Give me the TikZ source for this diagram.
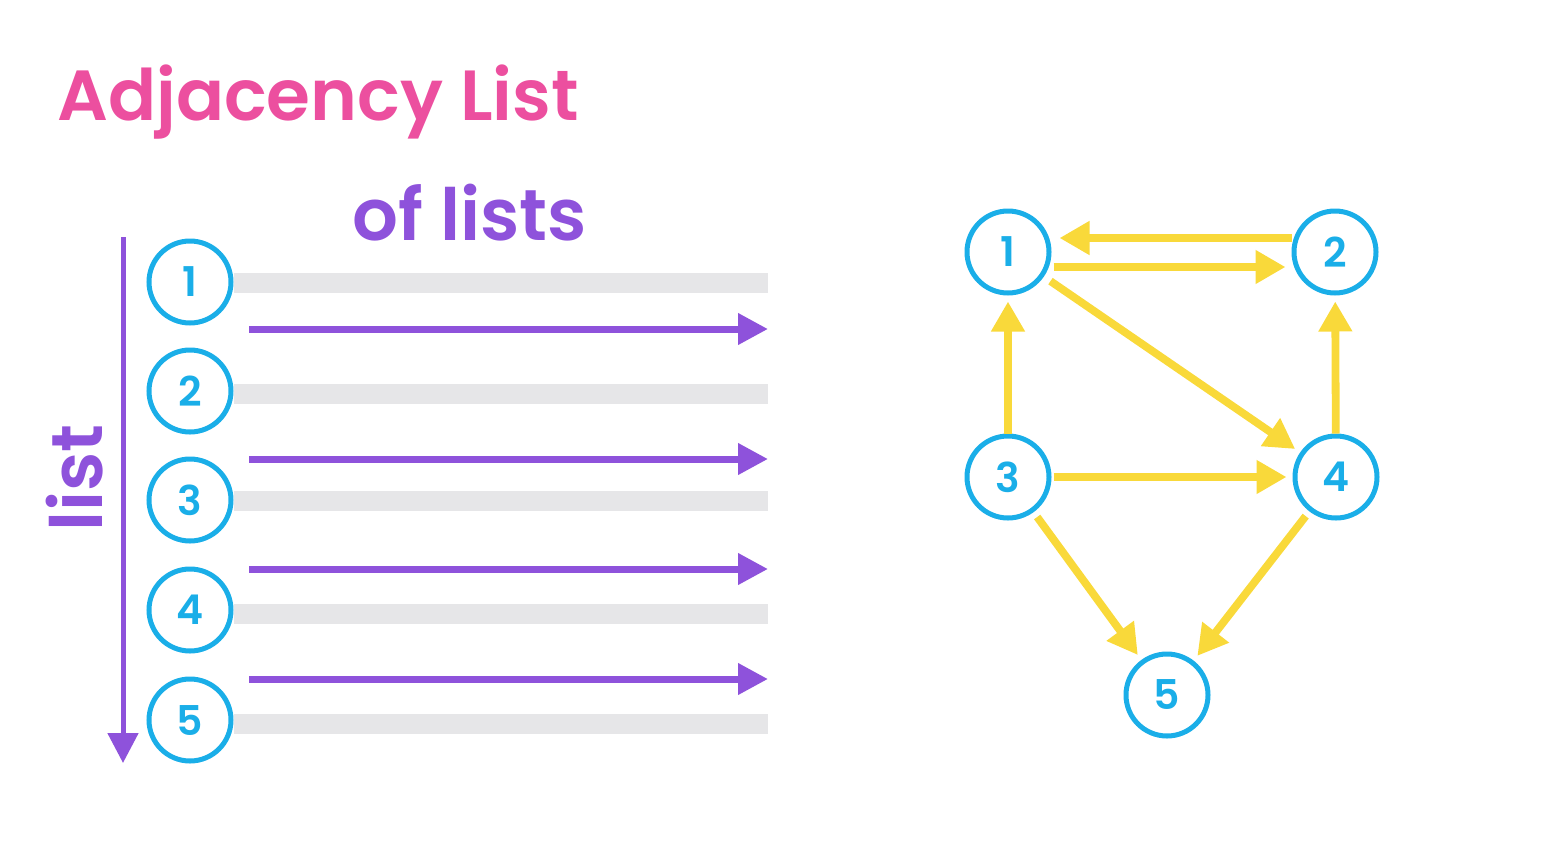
\documentclass[tikz,border=0pt]{standalone}
\usepackage{fontspec}
\setmainfont{Poppins Medium}
\newfontfamily\semib{Poppins SemiBold}
\usetikzlibrary{arrows.meta}
\definecolor{cyanc}{HTML}{1AAEE8}
\definecolor{pinkc}{HTML}{EC4F9F}
\definecolor{purplec}{HTML}{8E52DB}
\definecolor{greyc}{HTML}{E6E6E8}
\definecolor{yellowc}{HTML}{F9D93A}
\tikzset{
  vert/.style={circle, draw=cyanc, line width=2.5pt, minimum size=41pt, inner sep=0pt, text=cyanc, font=\semib\fontsize{20.5}{21}\selectfont},
  bar/.style={greyc, line width=10pt},
  listarrow/.style={purplec, line width=3.5pt, -{Triangle[length=15pt,width=15pt]}},
  edge/.style={yellowc, line width=3.9pt, -{Triangle[length=15pt,width=16pt]}},
}
\begin{document}
\begin{tikzpicture}[x=0.5pt,y=-0.5pt]
\useasboundingbox (0,0) rectangle (1541,847);
% titles
\node[anchor=base west, text=pinkc, font=\semib\fontsize{35.5}{36}\selectfont, inner sep=0pt] (title) at (57,120) {Adjacency List};
\node[anchor=base west, text=purplec, font=\semib\fontsize{36}{36}\selectfont, inner sep=0pt] (oflists) at (352,240) {of lists};
\node[rotate=90, text=purplec, font=\semib\fontsize{36}{36}\selectfont, inner sep=0pt] (listlbl) at (75,478) {list};
% vertical list arrow
\coordinate (vtop) at (123,237);
\coordinate (vbot) at (123,763);
\draw[purplec, line width=2.5pt, -{Triangle[length=15pt,width=15pt]}] (vtop) -- (vbot);
% list vertices
\foreach \i/\y in {1/282,2/391,3/500,4/610,5/720}{
  \node[vert] (l\i) at (190,\y) {\i};
}
% grey bars
\foreach \i/\y in {1/283,2/394,3/501,4/614,5/724}{
  \coordinate (be\i) at (768,\y);
  \draw[bar] (l\i.east |- be\i) -- (be\i);
}
% purple arrows
\foreach \k/\y in {1/329,2/459,3/569,4/679}{
  \coordinate (as\k) at (249,\y);
  \coordinate (ae\k) at (768,\y);
  \draw[listarrow] (as\k) -- (ae\k);
}
% graph
\node[vert] (g1) at (1008,252) {1};
\node[vert] (g2) at (1335,252) {2};
\node[vert] (g3) at (1008,477) {3};
\node[vert] (g4) at (1336,477) {4};
\node[vert] (g5) at (1167,695) {5};
\draw[edge] ([yshift=7pt]g2.west) -- ([yshift=7pt,xshift=4pt]g1.east);
\draw[edge] ([yshift=-7.5pt,xshift=1pt]g1.east) -- ([yshift=-7.5pt,xshift=-3pt]g2.west);
\draw[edge, shorten <=4pt, shorten >=3pt] (g1) -- (g4);
\draw[edge, shorten >=3pt] (g3) -- (g1);
\draw[edge, shorten >=3pt] (g4) -- (g2);
\draw[edge, shorten <=1pt, shorten >=3pt] (g3) -- (g4);
\draw[edge, shorten <=3pt, shorten >=3pt] (g3) -- (g5);
\draw[edge, shorten <=3pt, shorten >=3pt] (g4) -- (g5);
\end{tikzpicture}
\end{document}
